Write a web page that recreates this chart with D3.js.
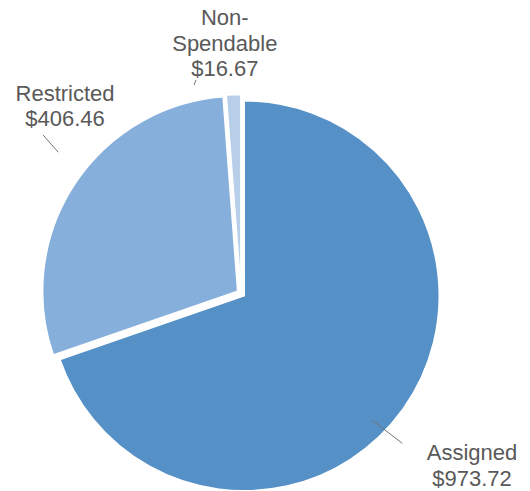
<!DOCTYPE html>
<html>
<head>
<meta charset="utf-8">
<script src="https://cdn.jsdelivr.net/npm/d3@7"></script>
<style>
  html, body { margin: 0; padding: 0; background: #ffffff; }
  svg { display: block; }
</style>
</head>
<body>
<svg id="chart" width="530" height="491"></svg>
<script>
// Fund balance categories and amounts
const categories = ["Assigned", "Restricted", "Non-Spendable"];
const values = [973.72, 406.46, 16.67];
// Category names split over lines as printed beside each slice
const nameLines = [["Assigned"], ["Restricted"], ["Non-", "Spendable"]];
const colors = ["#5590c7", "#86afdc", "#b8cfea"];

// Label placement around the pie: angle in degrees (clockwise from 12 o'clock) and distance from centre
const labelPlacement = [
  { angle: 126.6, dist: 287.7 },
  { angle: 316.9, dist: 257.5 },
  { angle: 356.3, dist: 251.0 }
];
// Leader lines: polar start and end points
const leaderPlacement = [
  { a0: 134.0, r0: 182, a1: 132.9, r1: 220 },
  { a0: 308.7, r0: 253.6, a1: 307.7, r1: 231 },
  { a0: 348.1, r0: 218.2, a1: 347.3, r1: 213.7 }
];

const width = 530, height = 491;
const cx = 241, cy = 293.5, radius = 195, explode = 4;
const fontSize = 22, lineHeight = 25.5, capHeight = 0.716 * fontSize;
const textColor = "#595959";

const svg = d3.select("#chart");
const g = svg.append("g").attr("transform", `translate(${cx},${cy})`);

const pie = d3.pie().sort(null).value(d => d);
const arcs = pie(values);
const arc = d3.arc().innerRadius(0).outerRadius(radius);

const polar = (deg, r) => {
  const a = deg * Math.PI / 180;
  return [Math.sin(a) * r, -Math.cos(a) * r];
};

// Slices, each pushed slightly outward along its bisector
g.selectAll("path.slice")
  .data(arcs)
  .join("path")
  .attr("class", "slice")
  .attr("d", arc)
  .attr("fill", (d, i) => colors[i])
  .attr("stroke", "#ffffff")
  .attr("stroke-width", 1.5)
  .attr("stroke-linejoin", "miter")
  .attr("transform", d => {
    const mid = (d.startAngle + d.endAngle) / 2;
    return `translate(${Math.sin(mid) * explode},${-Math.cos(mid) * explode})`;
  });

// Leader lines
g.selectAll("line.leader")
  .data(leaderPlacement)
  .join("line")
  .attr("class", "leader")
  .attr("x1", d => polar(d.a0, d.r0)[0])
  .attr("y1", d => polar(d.a0, d.r0)[1])
  .attr("x2", d => polar(d.a1, d.r1)[0])
  .attr("y2", d => polar(d.a1, d.r1)[1])
  .attr("stroke", "#737373")
  .attr("stroke-width", 1);

// Labels: category name lines followed by the dollar value
const fmt = d3.format(",.2f");
arcs.forEach((d, i) => {
  const lines = nameLines[i].concat(["$" + fmt(d.data)]);
  const [lx, ly] = polar(labelPlacement[i].angle, labelPlacement[i].dist);
  const firstBaseline = ly - (lines.length - 1) * lineHeight / 2 + capHeight / 2;
  const t = g.append("text")
    .attr("text-anchor", "middle")
    .attr("font-family", "'Liberation Sans', Arial, sans-serif")
    .attr("font-size", fontSize)
    .attr("fill", textColor);
  lines.forEach((s, j) => {
    t.append("tspan")
      .attr("x", lx)
      .attr("y", firstBaseline + j * lineHeight)
      .text(s);
  });
});
</script>
</body>
</html>
